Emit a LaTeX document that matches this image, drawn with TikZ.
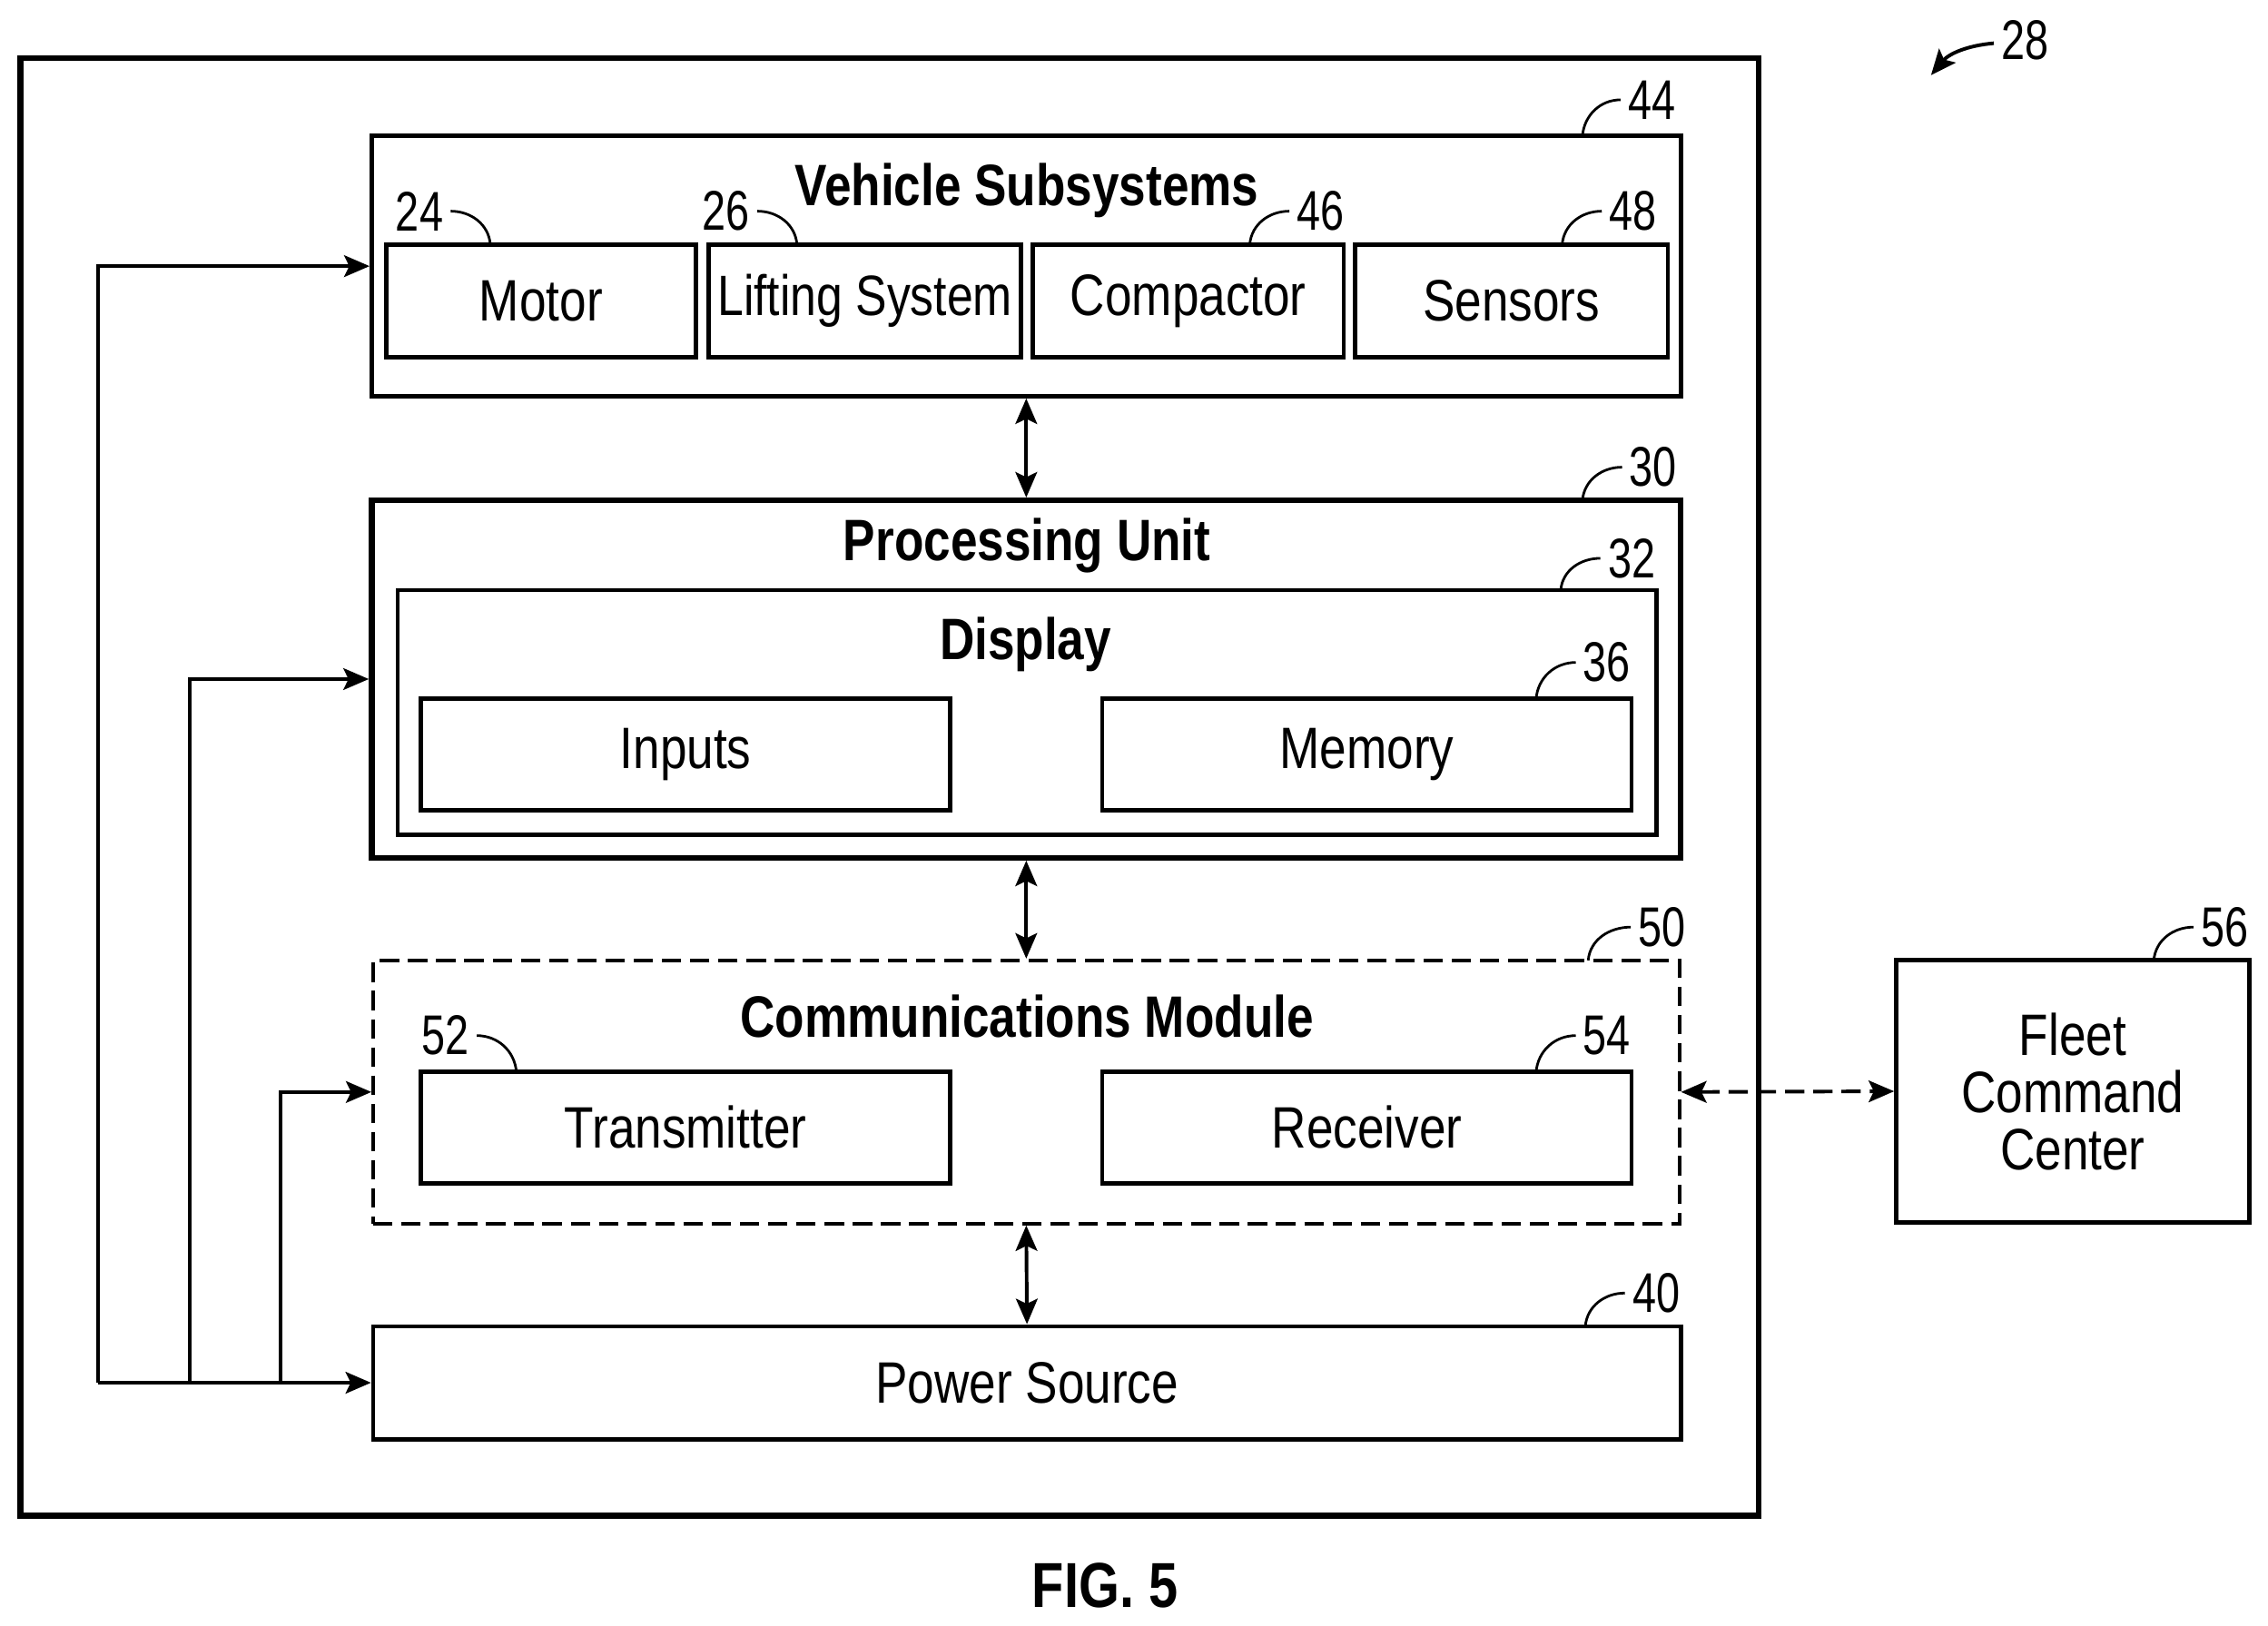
\documentclass[tikz,border=0pt]{standalone}
\usepackage{fontspec}
\setmainfont[FakeStretch=0.825]{Liberation Sans}
\newfontfamily\numfont[FakeStretch=0.76]{Liberation Sans}
\usetikzlibrary{arrows.meta}

\tikzset{
    box/.style = {draw, line width=1.7pt, inner sep=0pt, font=\fontsize{23}{22.5}\selectfont, align=center},
    heavybox/.style = {box, line width=2.3pt},
    dashbox/.style = {box, line width=1.4pt, dash pattern=on 7.6pt off 3.5pt},
    title/.style = {font=\fontsize{23}{27}\selectfont\bfseries, inner sep=0pt},
    refnum/.style = {font=\fontsize{22}{26}\selectfont\numfont, inner sep=0pt, outer sep=3pt},
    leader/.style = {line width=1pt},
    link/.style = {line width=1.4pt},
}

\begin{document}
\begin{tikzpicture}
    \useasboundingbox (0,0) rectangle (31.36,-22.48);

    \begin{scope}
        \node[heavybox, minimum width=24.04cm, minimum height=20.16cm] (outer) at (12.30,-10.88) {};

        \node[box, minimum width=18.10cm, minimum height=3.60cm] (veh) at (14.19,-3.68) {};
        \node[box, minimum width=4.28cm, minimum height=1.56cm] (motor) at (7.48,-4.16) {Motor};
        \node[box, minimum width=4.32cm, minimum height=1.56cm, font=\fontsize{22.4}{27}\selectfont] (lift) at (11.96,-4.16) {Lifting System};
        \node[box, minimum width=4.30cm, minimum height=1.56cm] (comp) at (16.43,-4.16) {Compactor};
        \node[box, minimum width=4.32cm, minimum height=1.56cm] (sens) at (20.90,-4.16) {Sensors};

        \node[heavybox, minimum width=18.10cm, minimum height=4.94cm] (proc) at (14.19,-9.39) {};
        \node[box, minimum width=17.40cm, minimum height=3.38cm] (disp) at (14.20,-9.85) {};
        \node[box, minimum width=7.32cm, minimum height=1.54cm] (inputs) at (9.48,-10.43) {Inputs};
        \node[box, minimum width=7.32cm, minimum height=1.54cm] (memory) at (18.90,-10.43) {Memory};

        \node[dashbox, minimum width=18.06cm, minimum height=3.64cm] (comm) at (14.19,-15.10) {};
        \node[box, minimum width=7.32cm, minimum height=1.54cm] (trans) at (9.48,-15.59) {Transmitter};
        \node[box, minimum width=7.32cm, minimum height=1.54cm] (recv) at (18.90,-15.59) {Receiver};

        \node[box, minimum width=18.08cm, minimum height=1.56cm] (power) at (14.20,-19.12) {Power Source};
        \node[box, minimum width=4.88cm, minimum height=3.62cm] (fleet) at (28.66,-15.09) {Fleet\\Command\\Center};
    \end{scope}

    \node[title] (tveh) at (14.20,-2.63) {Vehicle Subsystems};
    \node[title] (tproc) at (14.20,-7.55) {Processing Unit};
    \node[title] (tdisp) at (14.18,-8.91) {Display};
    \node[title] (tcomm) at (14.20,-14.06) {Communications Module};
    \node[title, font=\fontsize{25}{29}\selectfont\bfseries] (tfig) at (15.28,-21.92) {FIG. 5};

    \begin{scope}[every node/.style={refnum}]
        \node (n28) at (28.00,-0.56) {28};
        \node (n44) at (22.84,-1.38) {44};
        \node (n24) at (5.80,-2.92) {24};
        \node (n26) at (10.04,-2.92) {26};
        \node (n46) at (18.26,-2.92) {46};
        \node (n48) at (22.58,-2.92) {48};
        \node (n30) at (22.86,-6.46) {30};
        \node (n32) at (22.56,-7.72) {32};
        \node (n36) at (22.22,-9.16) {36};
        \node (n50) at (22.98,-12.82) {50};
        \node (n52) at (6.16,-14.32) {52};
        \node (n54) at (22.22,-14.32) {54};
        \node (n40) at (22.90,-17.88) {40};
        \node (n56) at (30.76,-12.82) {56};
    \end{scope}

    \coordinate (e28) at (26.70,-1.04);
    \coordinate (e44) at (21.88,-1.88);
    \coordinate (e24) at (6.78,-3.38);
    \coordinate (e26) at (11.02,-3.38);
    \coordinate (e46) at (17.28,-3.38);
    \coordinate (e48) at (21.60,-3.38);
    \coordinate (e30) at (21.88,-6.92);
    \coordinate (e32) at (21.58,-8.16);
    \coordinate (e36) at (21.24,-9.66);
    \coordinate (e50) at (21.96,-13.28);
    \coordinate (e52) at (7.14,-14.82);
    \coordinate (e54) at (21.24,-14.82);
    \coordinate (e40) at (21.92,-18.34);
    \coordinate (e56) at (29.78,-13.28);

    \coordinate (bus1) at (1.36,-19.12);
    \coordinate (bus2) at (2.62,-19.12);
    \coordinate (bus3) at (3.88,-19.12);

    \begin{scope}[>={Stealth[length=10pt,width=8.5pt,inset=2pt]}]
        \path [->, leader] (n28) edge[out=185, in=50, line width=1.4pt] (e28);
        \path [leader] (n44) edge[out=180, in=85] (e44);
        \path [leader] (n24) edge[out=0, in=95] (e24);
        \path [leader] (n26) edge[out=0, in=95] (e26);
        \path [leader] (n46) edge[out=180, in=85] (e46);
        \path [leader] (n48) edge[out=180, in=85] (e48);
        \path [leader] (n30) edge[out=180, in=85] (e30);
        \path [leader] (n32) edge[out=180, in=85] (e32);
        \path [leader] (n36) edge[out=180, in=85] (e36);
        \path [leader] (n50) edge[out=180, in=85] (e50);
        \path [leader] (n52) edge[out=0, in=95] (e52);
        \path [leader] (n54) edge[out=180, in=85] (e54);
        \path [leader] (n40) edge[out=180, in=85] (e40);
        \path [leader] (n56) edge[out=180, in=85] (e56);

        \draw [<->, link] (veh.south) -- (proc.north);
        \draw [<->, link] (proc.south) -- (comm.north);
        \draw [<->, link] (comm.south) -- (power.north);
        \draw [<->, link, dash pattern=on 7.6pt off 3.5pt] (comm.east) -- (fleet.west);

        \draw [->, link] (bus1) -- (power.west);
        \draw [->, link] (bus1) |- (veh.west);
        \draw [->, link] (bus2) |- (proc.west);
        \draw [->, link] (bus3) |- (comm.west);
    \end{scope}
\end{tikzpicture}
\end{document}
